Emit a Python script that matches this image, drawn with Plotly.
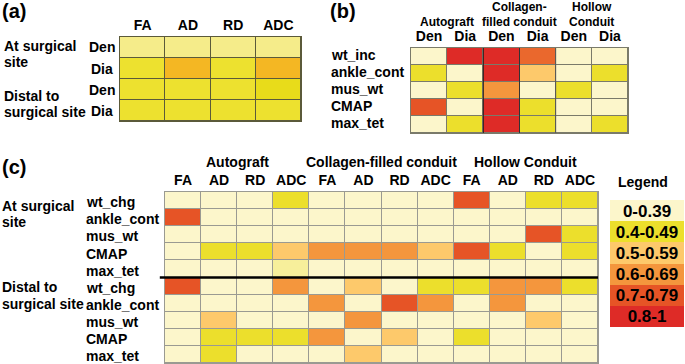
import plotly.graph_objects as go

W, H = 685, 364


def fx(v):
    return v / W


def fy(v):
    return 1 - v / H


# ---------------- data ----------------
level_colors = ["#FCF6CB", "#ECDF2C", "#FDC96B", "#F4963D", "#E65426", "#DE2B27"]
legend_labels = ["0-0.39", "0.4-0.49", "0.5-0.59", "0.6-0.69", "0.7-0.79", "0.8-1"]
legend_levels = [0, 1, 2, 3, 4, 5]

# panel (a)
a_colors = ["#F5EC8A", "#EDE12F", "#E8DC1A", "#F4B723"]
a_cols = ["FA", "AD", "RD", "ADC"]
a_rows = ["Den", "Dia", "Den", "Dia"]
a_row_groups = ["At surgical", "site", "Distal to", "surgical site"]
a_levels = [
    [0, 0, 0, 0],
    [1, 3, 1, 3],
    [1, 1, 1, 2],
    [1, 1, 1, 1],
]

# panel (b)
b_groups_top = ["", "Collagen-", "Hollow"]
b_groups_bottom = ["Autograft", "filled conduit", "Conduit"]
b_cols = ["Den", "Dia", "Den", "Dia", "Den", "Dia"]
b_rows = ["wt_inc", "ankle_cont", "mus_wt", "CMAP", "max_tet"]
b_levels = [
    [0, 5, 5, 3.7, 0, 0],
    [1, 0, 5, 2, 0, 1],
    [0, 1, 3, 0, 1, 0],
    [4, 0, 5, 1, 0, 0],
    [0, 1, 5, 1, 0, 1],
]

# panel (c)
c_groups = ["Autograft", "Collagen-filled conduit", "Hollow Conduit"]
c_cols = ["FA", "AD", "RD", "ADC", "FA", "AD", "RD", "ADC", "FA", "AD", "RD", "ADC"]
c_rows = ["wt_chg", "ankle_cont", "mus_wt", "CMAP", "max_tet",
          "wt_chg", "ankle_cont", "mus_wt", "CMAP", "max_tet"]
c_row_groups = ["At surgical", "site", "Distal to", "surgical site"]
c_levels = [
    [0, 0, 0, 1, 0, 0, 0, 0, 4, 0, 1, 1],
    [4, 0, 0, 0, 0, 0, 0, 0, 0, 0, 0, 0],
    [0, 0, 0, 0, 0, 0, 0, 0, 0, 0, 4, 1],
    [0, 1, 1, 2, 3, 3, 3, 2, 4, 1, 0, 1],
    [0, 0, 0, 0.3, 0, 0, 0, 0, 0, 0, 0, 0],
    [4, 0, 0, 3, 0, 2, 0, 1, 1, 3, 3, 1],
    [0, 0, 0, 0, 3, 0, 4, 3, 0, 3, 0, 0],
    [0, 2, 0, 0, 0, 3, 0, 0, 0, 0, 2, 0],
    [0, 1, 1, 1, 3, 0, 2, 0, 1, 0, 0, 0],
    [0, 1, 0, 0, 0, 2, 0, 0, 0, 0, 0, 0],
]

# ---------------- figure ----------------
FONT = "Liberation Sans, Arial, sans-serif"
level_scale = [[i / (len(level_colors) - 1), c] for i, c in enumerate(level_colors)]
a_scale = [[i / (len(a_colors) - 1), c] for i, c in enumerate(a_colors)]

fig = go.Figure()


def add_heat(z, xa, ya, scale, zmax, gap=1):
    fig.add_trace(go.Heatmap(
        z=z, x=list(range(len(z[0]))), y=list(range(len(z))),
        colorscale=scale, zmin=0, zmax=zmax, showscale=False,
        xgap=gap, ygap=gap, xaxis=xa, yaxis=ya, hoverinfo="skip",
    ))


add_heat(a_levels, "x", "y", a_scale, len(a_colors) - 1)
add_heat(b_levels, "x2", "y2", level_scale, len(level_colors) - 1)
add_heat(c_levels, "x3", "y3", level_scale, len(level_colors) - 1)
fig.add_trace(go.Heatmap(
    z=[[v] for v in legend_levels], x=[0], y=list(range(len(legend_levels))),
    text=[[t] for t in legend_labels], texttemplate="<b>%{text}</b>",
    textfont=dict(size=17, color="black", family=FONT),
    colorscale=level_scale, zmin=0, zmax=len(level_colors) - 1, showscale=False,
    xaxis="x4", yaxis="y4", hoverinfo="skip",
))


def xax(domain, labels, yname, linecolor, show=True):
    return dict(domain=domain, range=[-0.5, len(labels) - 0.5], side="top",
                anchor=yname, tickvals=list(range(len(labels))), ticktext=labels,
                showticklabels=show, ticks="", showgrid=False, zeroline=False,
                showline=show, mirror=True, linecolor=linecolor, linewidth=1,
                tickfont=dict(size=14, family=FONT, color="black", weight="bold"),
                fixedrange=True)


def yax(domain, n, xname, linecolor, show=True):
    return dict(domain=domain, range=[n - 0.5, -0.5], anchor=xname,
                showticklabels=False, ticks="", showgrid=False, zeroline=False,
                showline=show, mirror=True, linecolor=linecolor, linewidth=1,
                fixedrange=True)


A_LINE, B_LINE, C_LINE = "#5B5A3A", "#7A7A6A", "#9A9A92"

fig.update_layout(
    width=W, height=H, margin=dict(l=0, r=0, t=0, b=0),
    paper_bgcolor="white", plot_bgcolor="white",
    font=dict(family=FONT, size=14, color="black", weight="bold"),
    xaxis=xax([fx(120), fx(301)], a_cols, "y", A_LINE),
    yaxis=yax([fy(121), fy(37)], len(a_rows), "x", A_LINE),
    xaxis2=xax([fx(411), fx(628)], b_cols, "y2", B_LINE),
    yaxis2=yax([fy(133), fy(48)], len(b_rows), "x2", B_LINE),
    xaxis3=xax([fx(165), fx(598)], c_cols, "y3", C_LINE),
    yaxis3=yax([fy(363), fy(192)], len(c_rows), "x3", C_LINE),
    xaxis4=xax([fx(610), fx(684)], [""], "y4", "white", show=False),
    yaxis4=yax([fy(327), fy(200)], len(legend_levels), "x4", "white", show=False),
)

shapes = []
# grid line colour backgrounds per panel
for xa, col in (("x", A_LINE), ("x2", B_LINE), ("x3", C_LINE)):
    ya = xa.replace("x", "y")
    shapes.append(dict(type="rect", xref=f"{xa} domain", yref=f"{ya} domain",
                       x0=0, x1=1, y0=0, y1=1, fillcolor=col, line_width=0,
                       layer="below"))
# darker borders around collagen-filled columns in (b)
for xv, col in ((1.5, "#222222"), (2.5, "#333333"), (3.5, "#555555")):
    shapes.append(dict(type="line", xref="x2", yref="y2 domain", x0=xv, x1=xv,
                       y0=0, y1=1, line=dict(color=col, width=1)))
# separator between site groups in (c)
half = len(c_rows) // 2
shapes.append(dict(type="line", xref="x3 domain", yref="y3",
                   x0=-0.012, x1=1, y0=half - 0.5, y1=half - 0.5,
                   line=dict(color="black", width=2.5)))
fig.update_layout(shapes=shapes)

ann = []


def text(x, y, s, size=14, xanchor="left", xref="paper", yref="paper"):
    ann.append(dict(x=x, y=y, text=s, xref=xref, yref=yref, xanchor=xanchor,
                    yanchor="middle", showarrow=False,
                    font=dict(size=size, family=FONT, color="black", weight="bold")))


# panel labels
text(fx(0), fy(11), "(a)", size=20)
text(fx(328), fy(11), "(b)", size=20)
text(fx(0), fy(167), "(c)", size=20)

# panel (a) labels
for i, r in enumerate(a_rows):
    text(fx(101.5), i, r, xanchor="center", yref="y")
for s, yy in zip(a_row_groups, [46, 62, 96, 112]):
    text(fx(2), fy(yy), s)

# panel (b) labels
for i, r in enumerate(b_rows):
    text(fx(329), i - 0.1, r, yref="y2")
for g, (t1, t2) in enumerate(zip(b_groups_top, b_groups_bottom)):
    if t1:
        text(2 * g + 0.5, fy(7), t1, size=12, xanchor="center", xref="x2")
    text(2 * g + 0.5, fy(21.5), t2, size=12, xanchor="center", xref="x2")

# panel (c) labels
for i, r in enumerate(c_rows):
    text(fx(84), i + 0.1, r, yref="y3")
for s, yy in zip(c_row_groups, [206, 222, 287, 304]):
    text(fx(0), fy(yy), s)
for g, s in enumerate(c_groups):
    text(4 * g + 1.5, fy(162), s, xanchor="center", xref="x3")

# legend title
text(fx(643), fy(182), "Legend", xanchor="center")

fig.update_layout(annotations=ann)
fig.write_html("out.html", config={"displayModeBar": False},
               post_script="document.body.style.margin='0px';")
